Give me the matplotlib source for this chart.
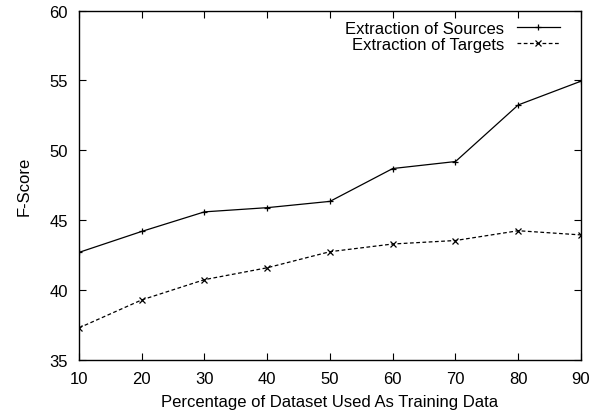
import matplotlib
matplotlib.use("Agg")
import matplotlib.pyplot as plt

percent = [10, 20, 30, 40, 50, 60, 70, 80, 90]
sources = [42.7, 44.2, 45.6, 45.9, 46.35, 48.7, 49.2, 53.25, 54.95]
targets = [37.3, 39.3, 40.75, 41.6, 42.75, 43.3, 43.55, 44.25, 43.95]


def main():
    plt.rcParams['font.family'] = ['Liberation Sans', 'DejaVu Sans']
    plt.rcParams['font.size'] = 12
    fig = plt.figure(figsize=(6.03, 4.14), dpi=100)
    ax = fig.add_axes([0.131, 0.128, 0.8325, 0.844])

    ax.plot(percent, sources, color='black', lw=0.9, marker='+', ms=5,
            mew=0.9, label='Extraction of Sources')
    ax.plot(percent, targets, color='black', lw=0.9, marker='x', ms=4,
            mew=0.9, dashes=(3, 2), label='Extraction of Targets')

    ax.set_xlim(10, 90)
    ax.set_ylim(35, 60)
    ax.set_xticks(range(10, 91, 10))
    ax.set_yticks(range(35, 61, 5))
    ax.tick_params(direction='in', top=True, right=True, length=5,
                   width=0.8, pad=8)
    for s in ax.spines.values():
        s.set_linewidth(1.0)

    ax.set_xlabel("Percentage of Dataset Used As Training Data", labelpad=6)
    ax.set_ylabel("F-Score", labelpad=13)

    ax.legend(loc='upper right', frameon=False, markerfirst=False,
              handlelength=2.6, numpoints=1, borderaxespad=0.2,
              labelspacing=0.1, handletextpad=0.75,
              bbox_to_anchor=(0.978, 1.0))

    fig.savefig("out.png", dpi=100)


if __name__ == "__main__":
    main()
